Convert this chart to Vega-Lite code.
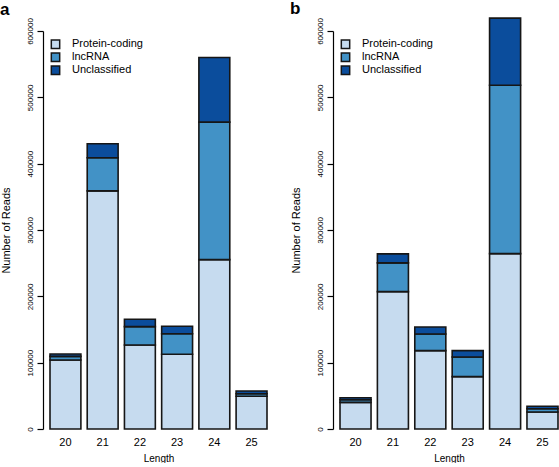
{
  "$schema": "https://vega.github.io/schema/vega-lite/v6.json",
  "padding": 0,
  "background": "white",
  "bounds": "flush",
  "spacing": 73,
  "config": {
    "font": "Liberation Sans",
    "view": {"stroke": null},
    "title": {"fontSize": 17, "fontWeight": "bold", "anchor": "start", "frame": "bounds", "color": "#000", "offset": -1},
    "axis": {"labelColor": "#000", "titleColor": "#000", "titleFontWeight": "normal", "grid": false}
  },
  "data": {
    "values": [
      {"panel": "a", "length": "20", "type": "Protein-coding", "reads": 104000},
      {"panel": "a", "length": "20", "type": "lncRNA", "reads": 5500},
      {"panel": "a", "length": "20", "type": "Unclassified", "reads": 3500},
      {"panel": "a", "length": "21", "type": "Protein-coding", "reads": 359000},
      {"panel": "a", "length": "21", "type": "lncRNA", "reads": 50000},
      {"panel": "a", "length": "21", "type": "Unclassified", "reads": 21000},
      {"panel": "a", "length": "22", "type": "Protein-coding", "reads": 126700},
      {"panel": "a", "length": "22", "type": "lncRNA", "reads": 27600},
      {"panel": "a", "length": "22", "type": "Unclassified", "reads": 11100},
      {"panel": "a", "length": "23", "type": "Protein-coding", "reads": 112700},
      {"panel": "a", "length": "23", "type": "lncRNA", "reads": 31000},
      {"panel": "a", "length": "23", "type": "Unclassified", "reads": 11200},
      {"panel": "a", "length": "24", "type": "Protein-coding", "reads": 255400},
      {"panel": "a", "length": "24", "type": "lncRNA", "reads": 207200},
      {"panel": "a", "length": "24", "type": "Unclassified", "reads": 97400},
      {"panel": "a", "length": "25", "type": "Protein-coding", "reads": 49300},
      {"panel": "a", "length": "25", "type": "lncRNA", "reads": 3900},
      {"panel": "a", "length": "25", "type": "Unclassified", "reads": 4100},
      {"panel": "b", "length": "20", "type": "Protein-coding", "reads": 40200},
      {"panel": "b", "length": "20", "type": "lncRNA", "reads": 4000},
      {"panel": "b", "length": "20", "type": "Unclassified", "reads": 3000},
      {"panel": "b", "length": "21", "type": "Protein-coding", "reads": 207100},
      {"panel": "b", "length": "21", "type": "lncRNA", "reads": 43300},
      {"panel": "b", "length": "21", "type": "Unclassified", "reads": 13600},
      {"panel": "b", "length": "22", "type": "Protein-coding", "reads": 118100},
      {"panel": "b", "length": "22", "type": "lncRNA", "reads": 25200},
      {"panel": "b", "length": "22", "type": "Unclassified", "reads": 10500},
      {"panel": "b", "length": "23", "type": "Protein-coding", "reads": 78900},
      {"panel": "b", "length": "23", "type": "lncRNA", "reads": 29700},
      {"panel": "b", "length": "23", "type": "Unclassified", "reads": 9500},
      {"panel": "b", "length": "24", "type": "Protein-coding", "reads": 264400},
      {"panel": "b", "length": "24", "type": "lncRNA", "reads": 253900},
      {"panel": "b", "length": "24", "type": "Unclassified", "reads": 101100},
      {"panel": "b", "length": "25", "type": "Protein-coding", "reads": 25600},
      {"panel": "b", "length": "25", "type": "lncRNA", "reads": 5000},
      {"panel": "b", "length": "25", "type": "Unclassified", "reads": 3600}
    ]
  },
  "resolve": {"scale": {"color": "independent"}, "legend": {"color": "independent"}},
  "hconcat": [
    {
      "title": {"text": "a"},
      "width": 217,
      "height": 398,
      "transform": [
        {"filter": "datum.panel === 'a'"},
        {"calculate": "indexof(['Protein-coding','lncRNA','Unclassified'], datum.type)", "as": "stackOrder"}
      ],
      "mark": {"type": "bar", "stroke": "#161616", "strokeWidth": 1.6, "clip": false},
      "encoding": {
        "x": {"field": "length", "type": "ordinal", "scale": {"paddingInner": 0.17, "paddingOuter": 0},
          "axis": {"title": "Length", "labelAngle": 0, "domain": false, "ticks": false, "labelFontSize": 11, "labelPadding": 7, "titleFontSize": 10, "titlePadding": 6}},
        "y": {"field": "reads", "type": "quantitative", "stack": "zero", "scale": {"domain": [0, 600000], "nice": false},
          "axis": {"title": "Number of Reads", "values": [0, 100000, 200000, 300000, 400000, 500000, 600000], "format": "d", "offset": 7, "tickSize": 6, "tickColor": "#000", "domainColor": "#000", "domainWidth": 1.2, "tickWidth": 1.2, "labelAngle": -90, "labelFontSize": 8, "labelPadding": 3, "titleFontSize": 11, "titlePadding": 15}},
        "color": {"field": "type", "type": "nominal",
          "scale": {"domain": ["Protein-coding", "lncRNA", "Unclassified"], "range": ["#c6dbef", "#4292c6", "#0b4d9c"]},
          "legend": {"title": null, "orient": "none", "legendX": 0, "legendY": 7, "symbolType": "square", "symbolSize": 70, "symbolStrokeColor": "#161616", "symbolStrokeWidth": 1.5, "labelFontSize": 11, "labelOffset": 11, "rowPadding": 0, "clipHeight": 12.5, "labelColor": "#000"}},
        "order": {"field": "stackOrder", "type": "quantitative"}
      }
    },
    {
      "title": {"text": "b"},
      "width": 218,
      "height": 398,
      "transform": [
        {"filter": "datum.panel === 'b'"},
        {"calculate": "indexof(['Protein-coding','lncRNA','Unclassified'], datum.type)", "as": "stackOrder"}
      ],
      "mark": {"type": "bar", "stroke": "#161616", "strokeWidth": 1.6, "clip": false},
      "encoding": {
        "x": {"field": "length", "type": "ordinal", "scale": {"paddingInner": 0.17, "paddingOuter": 0},
          "axis": {"title": "Length", "labelAngle": 0, "domain": false, "ticks": false, "labelFontSize": 11, "labelPadding": 7, "titleFontSize": 10, "titlePadding": 6}},
        "y": {"field": "reads", "type": "quantitative", "stack": "zero", "scale": {"domain": [0, 600000], "nice": false},
          "axis": {"title": "Number of Reads", "values": [0, 100000, 200000, 300000, 400000, 500000, 600000], "format": "d", "offset": 7, "tickSize": 6, "tickColor": "#000", "domainColor": "#000", "domainWidth": 1.2, "tickWidth": 1.2, "labelAngle": -90, "labelFontSize": 8, "labelPadding": 3, "titleFontSize": 11, "titlePadding": 15}},
        "color": {"field": "type", "type": "nominal",
          "scale": {"domain": ["Protein-coding", "lncRNA", "Unclassified"], "range": ["#c6dbef", "#4292c6", "#0b4d9c"]},
          "legend": {"title": null, "orient": "none", "legendX": 0, "legendY": 7, "symbolType": "square", "symbolSize": 70, "symbolStrokeColor": "#161616", "symbolStrokeWidth": 1.5, "labelFontSize": 11, "labelOffset": 11, "rowPadding": 0, "clipHeight": 12.5, "labelColor": "#000"}},
        "order": {"field": "stackOrder", "type": "quantitative"}
      }
    }
  ]
}
